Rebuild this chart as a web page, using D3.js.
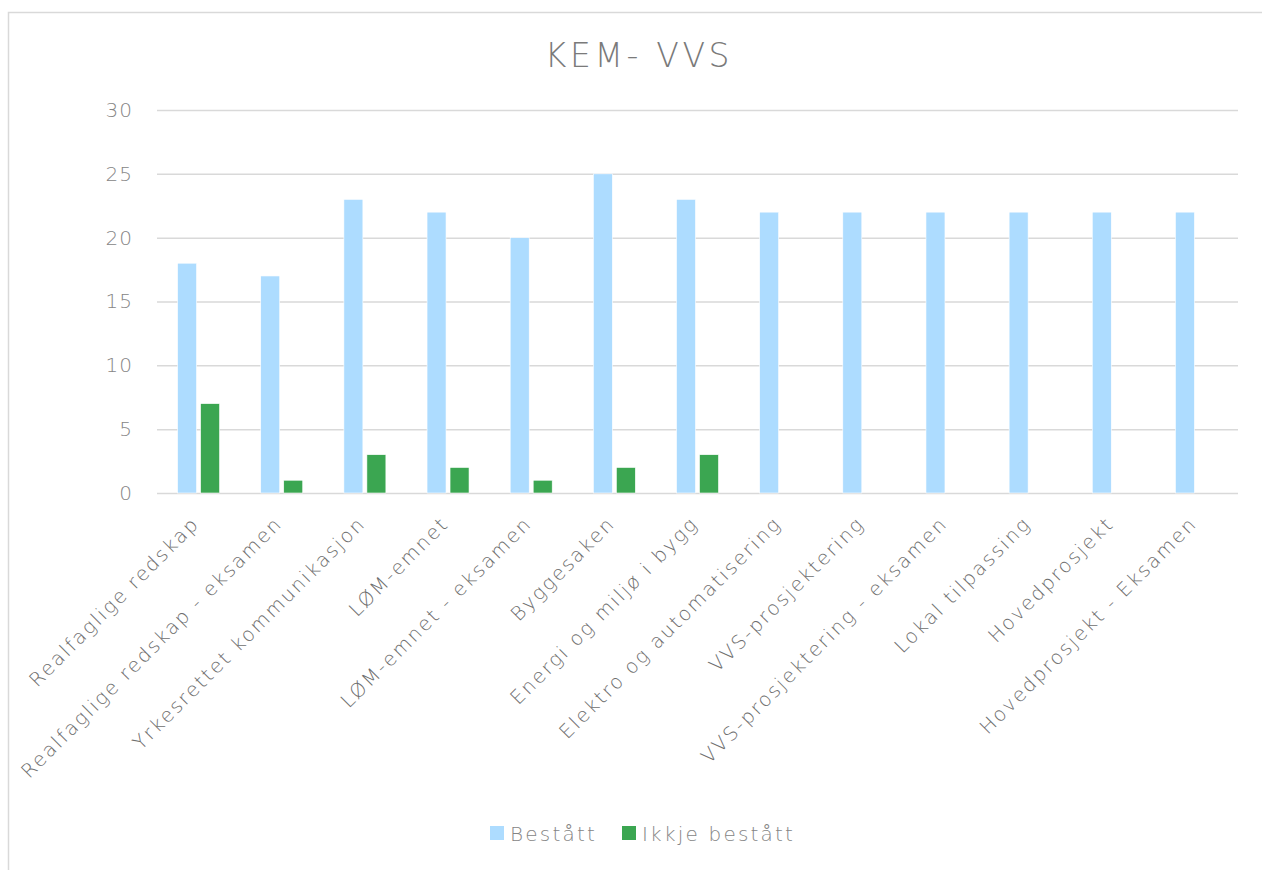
<!DOCTYPE html>
<html lang="no">
<head>
  <meta charset="UTF-8">
  <title>KEM- VVS</title>
  <script src="https://d3js.org/d3.v7.min.js"></script>
  <style>
    * { margin: 0; padding: 0; box-sizing: border-box; }
    body { background: #fff; font-family: "DejaVu Sans", sans-serif; font-weight: 200; }
    #chart { width: 1262px; height: 870px; }
    text { font-family: "DejaVu Sans", sans-serif; font-weight: 200; }
  </style>
</head>
<body>
  <div id="chart"></div>
  <script>
    const categories = [
      "Realfaglige redskap", "Realfaglige redskap - eksamen", "Yrkesrettet kommunikasjon",
      "LØM-emnet", "LØM-emnet - eksamen", "Byggesaken", "Energi og miljø i bygg",
      "Elektro og automatisering", "VVS-prosjektering", "VVS-prosjektering - eksamen",
      "Lokal tilpassing", "Hovedprosjekt", "Hovedprosjekt - Eksamen"
    ];
    const bestatt = [18, 17, 23, 22, 20, 25, 23, 22, 22, 22, 22, 22, 22];
    const ikkjeBestatt = [7, 1, 3, 2, 1, 2, 3, 0, 0, 0, 0, 0, 0];
    const seriesNames = ["Bestått", "Ikkje bestått"];
    const yTicks = [0, 5, 10, 15, 20, 25, 30];
    const colors = ["#addcff", "#3ba651"];

    const W = 1262, H = 870;
    const margin = {top: 110, right: 24, bottom: 377, left: 157};
    const width = W - margin.left - margin.right,
          height = H - margin.top - margin.bottom;

    const root = d3.select("#chart").append("svg")
      .attr("width", W).attr("height", H);

    // chart frame
    root.append("rect")
      .attr("x", 8.5).attr("y", 12.5)
      .attr("width", W).attr("height", H)
      .attr("fill", "none").attr("stroke", "#d9d9d9").attr("stroke-width", 1.5);

    root.append("text")
      .attr("x", 639).attr("y", 67)
      .attr("text-anchor", "middle")
      .style("font-size", "33px")
      .style("fill", "#7a7a7a")
      .style("letter-spacing", "3.6px")
      .text("KEM- VVS");

    const svg = root.append("g")
      .attr("transform", `translate(${margin.left},${margin.top})`);

    const x = d3.scaleBand().domain(categories).range([0, width]);
    const y = d3.scaleLinear().domain([0, 30]).range([height, 0]);

    // gridlines
    svg.append("g")
      .call(d3.axisLeft(y).tickValues(yTicks).tickSize(-width).tickFormat(""))
      .call(g => g.select(".domain").remove())
      .selectAll("line")
      .attr("stroke", "#d9d9d9").attr("stroke-width", 1.5);

    // y labels
    svg.append("g")
      .call(d3.axisLeft(y).tickValues(yTicks).tickSize(0).tickPadding(24))
      .call(g => g.select(".domain").remove())
      .selectAll("text")
      .style("font-size", "20px")
      .style("font-family", "'DejaVu Sans', sans-serif")
      .style("letter-spacing", "1px")
      .style("fill", "#858585");

    const barW = 19, gap = 4;
    const data = categories.map((c, i) => ({c, vals: [bestatt[i], ikkjeBestatt[i]]}));

    const grp = svg.selectAll(".cat")
      .data(data).enter().append("g")
      .attr("transform", d => `translate(${x(d.c) + x.bandwidth() / 2},0)`);

    grp.selectAll("rect")
      .data(d => d.vals.map((v, k) => ({v, k})))
      .enter().append("rect")
      .attr("x", d => d.k === 0 ? -barW - gap / 2 : gap / 2)
      .attr("width", barW)
      .attr("y", d => y(d.v))
      .attr("height", d => y(0) - y(d.v))
      .attr("fill", d => colors[d.k])
      .attr("stroke", "#fff").attr("stroke-width", 0.6);

    // category labels
    svg.append("g")
      .attr("transform", `translate(0,${height})`)
      .call(d3.axisBottom(x).tickSize(0).tickPadding(0))
      .call(g => g.select(".domain").remove())
      .selectAll("text")
      .attr("y", 0)
      .attr("transform", "translate(-3,27) rotate(-45)")
      .attr("text-anchor", "end")
      .attr("dy", "0.35em")
      .style("font-size", "19.5px")
      .style("font-family", "'DejaVu Sans', sans-serif")
      .style("letter-spacing", "2.1px")
      .style("fill", "#6e6e6e");

    // legend
    const legendX = [490, 622];
    const legend = root.append("g");
    seriesNames.forEach((n, i) => {
      legend.append("rect")
        .attr("x", legendX[i]).attr("y", 826)
        .attr("width", 14).attr("height", 14)
        .attr("fill", colors[i]);
      legend.append("text")
        .attr("x", legendX[i] + 20).attr("y", 841)
        .style("font-size", "20px")
        .style("letter-spacing", "2.2px")
        .style("fill", "#858585")
        .text(n);
    });
  </script>
</body>
</html>
